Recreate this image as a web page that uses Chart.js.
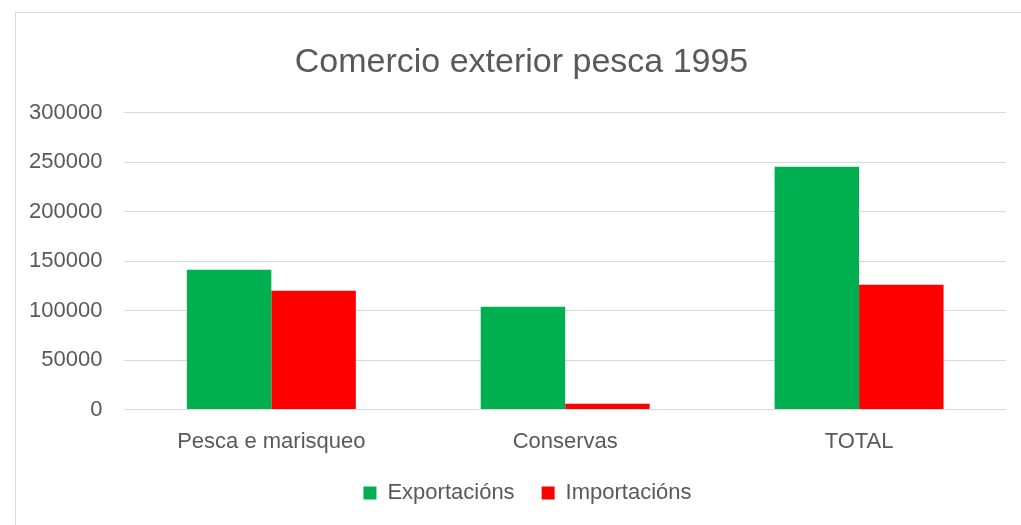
<!DOCTYPE html>
<html>
<head>
<meta charset="utf-8">
<script src="https://cdn.jsdelivr.net/npm/chart.js@4/dist/chart.umd.min.js"></script>
<style>
html,body{margin:0;padding:0;background:#fff;width:1021px;height:525px;overflow:hidden;}
#box{position:absolute;left:15px;top:12px;width:1020px;height:520px;border-left:1px solid #d9d9d9;border-top:1px solid #d9d9d9;box-sizing:border-box;}
#wrap{position:absolute;left:0;top:0;width:1006px;height:512px;}
</style>
</head>
<body>
<div id="box"><div id="wrap"><canvas id="c"></canvas></div></div>
<script>
const categories = ["Pesca e marisqueo", "Conservas", "TOTAL"];
const seriesNames = ["Exportacións", "Importacións"];
const exportacions = [141400, 104000, 245400];
const importacions = [120200, 6000, 126200];
const yTicks = [0, 50000, 100000, 150000, 200000, 250000, 300000];
const colors = ["#00b050", "#ff0000"];

const FONT = "'Liberation Sans', Arial, sans-serif";
const TXT = "#595959";

const blockShift = {
  id: 'blockShift',
  afterLayout(chart) {
    if (chart.legend) { chart.legend.left += 21; chart.legend.right += 21; }
    if (chart.titleBlock) { chart.titleBlock.left += 15; chart.titleBlock.right += 15; }
  }
};

new Chart(document.getElementById('c'), {
  type: 'bar',
  data: {
    labels: categories,
    datasets: [
      {label: seriesNames[0], data: exportacions, backgroundColor: colors[0], borderWidth: 0},
      {label: seriesNames[1], data: importacions, backgroundColor: colors[1], borderWidth: 0}
    ]
  },
  plugins: [blockShift],
  options: {
    responsive: true,
    maintainAspectRatio: false,
    animation: false,
    datasets: {bar: {categoryPercentage: 0.575, barPercentage: 1.0}},
    layout: {padding: {left: -9, right: 16, top: 14, bottom: 11}},
    plugins: {
      title: {
        display: true,
        text: "Comercio exterior pesca 1995",
        color: TXT,
        font: {family: FONT, size: 34, weight: 'normal'},
        padding: {top: 15, bottom: 30}
      },
      legend: {
        position: 'bottom',
        labels: {
          color: TXT,
          font: {family: FONT, size: 22},
          boxWidth: 13, boxHeight: 13,
          padding: 27
        }
      },
      tooltip: {enabled: false}
    },
    scales: {
      x: {
        grid: {display: false},
        border: {display: false},
        ticks: {color: TXT, font: {family: FONT, size: 22}, padding: 11},
        afterFit: (s) => { s.height -= 11; }
      },
      y: {
        min: 0, max: 300000,
        afterBuildTicks: (ax) => { ax.ticks = yTicks.map(v => ({value: v})); },
        grid: {color: "#d9d9d9", lineWidth: 1, drawTicks: false},
        border: {display: false},
        ticks: {color: TXT, font: {family: FONT, size: 22}, padding: 22, callback: (v) => String(v)}
      }
    }
  }
});
</script>
</body>
</html>
